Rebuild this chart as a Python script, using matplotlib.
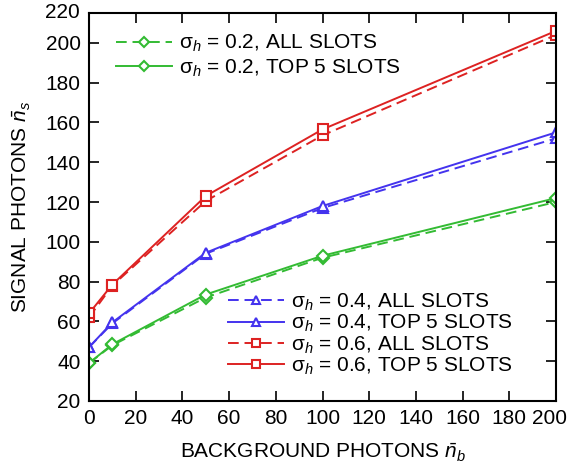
import matplotlib
matplotlib.use("Agg")
import matplotlib.pyplot as plt
import matplotlib.transforms as mtransforms

plt.rcParams['font.family'] = ['Liberation Sans', 'DejaVu Sans']
plt.rcParams['mathtext.fontset'] = 'custom'
plt.rcParams['mathtext.rm'] = 'Liberation Sans'
plt.rcParams['mathtext.it'] = 'Liberation Sans:italic'

# background photons
nb = [0, 10, 50, 100, 200]

# signal photons
g_all = [39, 48, 72, 92, 120]
g_top = [39, 48.5, 73.5, 93, 122]
b_all = [47, 59, 94, 117, 152]
b_top = [47, 59.5, 94.5, 118, 155]
r_all = [62, 78, 120.5, 153.5, 204]
r_top = [64, 78.5, 123, 156.5, 206]

green = '#33bb33'
blue = '#4433ee'
red = '#dd2222'

fs = 15

fig = plt.figure(figsize=(5.69, 4.76), dpi=100)
ax = fig.add_axes([0.1564, 0.1576, 0.8208, 0.8151])

mk = dict(markersize=7.5, markerfacecolor='white', markeredgewidth=1.5, linewidth=1.4)
dash = (0, (5.5, 3))

l1, = ax.plot(nb, g_all, color=green, marker='D', linestyle=dash, label='σ$_h$ = 0.2, ALL SLOTS', **{**mk, 'markersize': 6.5})
l2, = ax.plot(nb, g_top, color=green, marker='D', linestyle='-', label='σ$_h$ = 0.2, TOP 5 SLOTS', **{**mk, 'markersize': 6.5})
l3, = ax.plot(nb, b_all, color=blue, marker='^', linestyle=dash, label='σ$_h$ = 0.4, ALL SLOTS', **mk)
l4, = ax.plot(nb, b_top, color=blue, marker='^', linestyle='-', label='σ$_h$ = 0.4, TOP 5 SLOTS', **mk)
l5, = ax.plot(nb, r_all, color=red, marker='s', linestyle=dash, label='σ$_h$ = 0.6, ALL SLOTS', **mk)
l6, = ax.plot(nb, r_top, color=red, marker='s', linestyle='-', label='σ$_h$ = 0.6, TOP 5 SLOTS', **mk)

ax.set_xlim(0, 200)
ax.set_ylim(20, 215)
ax.set_xticks(range(0, 201, 20))
ax.set_yticks(range(20, 201, 20))
ax.tick_params(direction='in', length=7, width=1.2, labelsize=fs, top=True, right=True, pad=6)
ax.text(-0.02, 1.0, '220', transform=ax.transAxes, ha='right', va='center', fontsize=fs)
for s in ax.spines.values():
    s.set_linewidth(1.5)

# nudge the last x label inward, as in the original
fig.canvas.draw()
last = ax.get_xticklabels()[-1]
last.set_transform(last.get_transform() + mtransforms.ScaledTranslation(-5 / 72, 0, fig.dpi_scale_trans))

ax.set_xlabel(r'BACKGROUND PHOTONS $\bar{n}_b$', fontsize=fs, labelpad=10)
ax.set_ylabel(r'SIGNAL PHOTONS $\bar{n}_s$', fontsize=fs, labelpad=9)

leg1 = ax.legend(handles=[l1, l2], loc='upper left', bbox_to_anchor=(0.035, 0.975), frameon=False,
                 fontsize=fs, handlelength=2.7, handletextpad=0.35, labelspacing=0.15, borderpad=0, markerscale=0.8)
ax.add_artist(leg1)
ax.legend(handles=[l3, l4, l5, l6], loc='lower left', bbox_to_anchor=(0.275, 0.035), frameon=False,
          fontsize=fs, handlelength=2.7, handletextpad=0.35, labelspacing=0.0, borderpad=0, markerscale=0.8)

fig.savefig('out.png', dpi=100)
